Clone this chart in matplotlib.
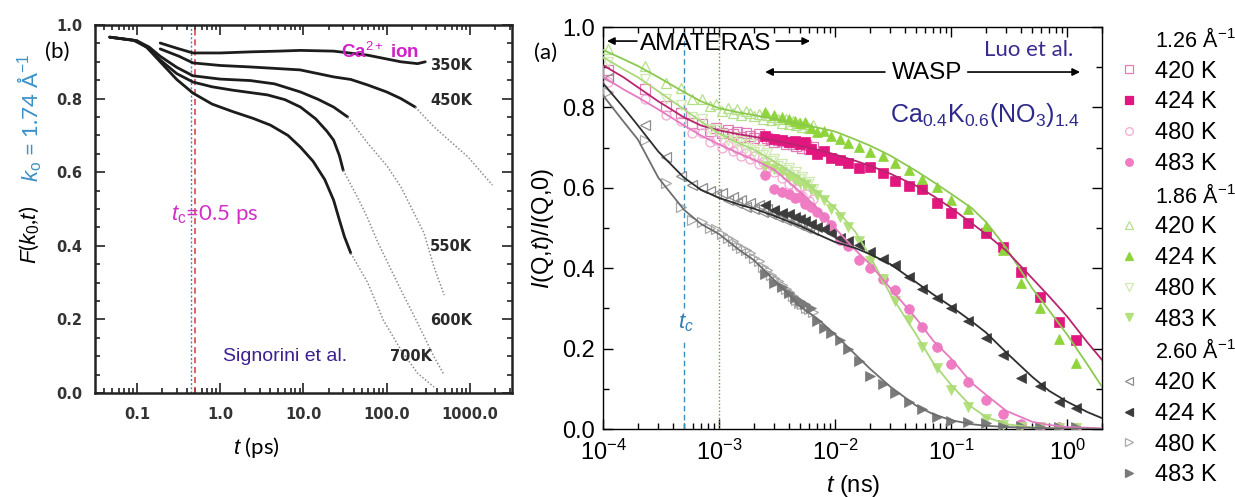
import matplotlib
matplotlib.use('Agg')
import matplotlib.pyplot as plt
from matplotlib.lines import Line2D
from matplotlib.ticker import LogLocator, MultipleLocator, NullFormatter

plt.rcParams['font.family'] = ['Liberation Sans', 'DejaVu Sans']
plt.rcParams['mathtext.fontset'] = 'custom'
plt.rcParams['mathtext.rm'] = 'Liberation Sans'
plt.rcParams['mathtext.it'] = 'Liberation Sans:italic'
plt.rcParams['mathtext.bf'] = 'Liberation Sans:bold'

# ---------------- panel (b): Signorini et al., F(k0,t) ----------------
# solid (thick) part of each curve
t_350 = [0.19, 0.3, 0.47, 1.0, 2.3, 5.0, 9.2, 23, 59, 148, 235, 290]
f_350 = [0.951, 0.937, 0.924, 0.924, 0.927, 0.929, 0.931, 0.929, 0.918, 0.900, 0.895, 0.900]
t_450 = [0.19, 0.32, 0.47, 1.0, 2.3, 9.1, 23, 37, 59, 100, 148, 220]
f_450 = [0.935, 0.915, 0.897, 0.890, 0.886, 0.878, 0.859, 0.852, 0.837, 0.818, 0.800, 0.777]
t_550 = [0.047, 0.1, 0.14, 0.19, 0.3, 0.47, 1.0, 2.3, 4.5, 9.2, 15, 23, 34]
f_550 = [0.967, 0.957, 0.940, 0.915, 0.885, 0.862, 0.853, 0.849, 0.840, 0.818, 0.798, 0.777, 0.750]
t_600 = [0.047, 0.1, 0.14, 0.19, 0.3, 0.47, 0.8, 1.4, 3.7, 6.0, 9.2, 14, 19, 23, 27, 30]
f_600 = [0.967, 0.957, 0.935, 0.905, 0.868, 0.845, 0.832, 0.823, 0.810, 0.797, 0.777, 0.745, 0.712, 0.687, 0.645, 0.605]
t_700 = [0.047, 0.09, 0.13, 0.19, 0.3, 0.47, 0.8, 1.4, 2.5, 4.0, 6.5, 9.2, 13, 18, 23, 27, 31, 37]
f_700 = [0.967, 0.959, 0.940, 0.900, 0.852, 0.815, 0.785, 0.765, 0.746, 0.728, 0.700, 0.668, 0.630, 0.580, 0.524, 0.470, 0.425, 0.380]
# dotted tails
t_450d = [220, 370, 950, 1860]
f_450d = [0.777, 0.723, 0.641, 0.565]
t_550d = [34, 59, 100, 148, 280, 370, 490]
f_550d = [0.750, 0.679, 0.618, 0.560, 0.435, 0.342, 0.266]
t_600d = [30, 45, 59, 78, 110, 148, 235, 370, 490]
f_600d = [0.605, 0.530, 0.475, 0.410, 0.340, 0.280, 0.190, 0.098, 0.049]
t_700d = [37, 59, 91, 148, 234, 370]
f_700d = [0.380, 0.300, 0.198, 0.117, 0.054, 0.016]

temp_labels_b = ['350K', '450K', '550K', '600K', '700K']

# ---------------- panel (a): Luo et al., I(Q,t)/I(Q,0) ----------------
# AMATERAS times (ns), open symbols (420 K and 480 K)
t_ama = [1.1e-4, 2.3e-4, 3.5e-4, 4.7e-4, 5.9e-4, 7.1e-4, 8.3e-4, 9.5e-4,
         1.07e-3, 1.19e-3, 1.31e-3, 1.43e-3, 1.55e-3, 1.7e-3, 1.85e-3, 2.0e-3,
         2.2e-3, 2.4e-3, 2.6e-3, 2.8e-3, 3.0e-3, 3.25e-3, 3.5e-3, 3.75e-3,
         4.0e-3, 4.3e-3, 4.6e-3, 4.9e-3, 5.2e-3, 5.6e-3, 6.0e-3, 6.5e-3]
# WASP times (ns), filled symbols (424 K and 483 K)
t_wasp = [2.5e-3, 3.0e-3, 3.5e-3, 4.0e-3, 4.5e-3, 5.0e-3, 5.5e-3, 6.2e-3,
          7.0e-3, 8.0e-3, 9.2e-3, 1.1e-2, 1.3e-2, 1.6e-2, 2.0e-2, 2.6e-2,
          3.3e-2, 4.3e-2, 5.6e-2, 7.5e-2, 0.1, 0.14, 0.2, 0.28, 0.4, 0.58, 0.85, 1.2]

q126_420 = [0.893, 0.845, 0.804, 0.787, 0.761, 0.758, 0.742, 0.750, 0.737, 0.745, 0.733, 0.740,
            0.726, 0.736, 0.730, 0.724, 0.733, 0.718, 0.725, 0.722, 0.713, 0.720, 0.716, 0.708,
            0.715, 0.710, 0.703, 0.712, 0.700, 0.707, 0.697, 0.702]
q126_480 = [0.862, 0.822, 0.780, 0.767, 0.736, 0.737, 0.714, 0.718, 0.700, 0.706, 0.692, 0.697,
            0.680, 0.687, 0.672, 0.678, 0.659, 0.665, 0.649, 0.657, 0.640, 0.646, 0.624, 0.632,
            0.610, 0.618, 0.596, 0.603, 0.580, 0.584, 0.566, 0.572]
q186_420 = [0.946, 0.902, 0.861, 0.849, 0.822, 0.820, 0.803, 0.809, 0.792, 0.799, 0.787, 0.795,
            0.781, 0.790, 0.786, 0.778, 0.784, 0.772, 0.780, 0.768, 0.775, 0.771, 0.762, 0.770,
            0.758, 0.766, 0.757, 0.762, 0.752, 0.759, 0.749, 0.755]
q186_480 = [0.912, 0.870, 0.822, 0.806, 0.776, 0.770, 0.746, 0.744, 0.735, 0.720, 0.727, 0.712,
            0.716, 0.700, 0.708, 0.690, 0.694, 0.681, 0.686, 0.666, 0.672, 0.655, 0.660, 0.644,
            0.650, 0.633, 0.640, 0.621, 0.628, 0.610, 0.615, 0.596]
q260_420 = [0.872, 0.756, 0.676, 0.630, 0.607, 0.600, 0.592, 0.584, 0.588, 0.570, 0.577, 0.562,
            0.569, 0.553, 0.561, 0.547, 0.556, 0.540, 0.548, 0.534, 0.541, 0.527, 0.535, 0.520,
            0.527, 0.514, 0.521, 0.507, 0.513, 0.500, 0.506, 0.495]
q260_480 = [0.838, 0.718, 0.612, 0.553, 0.521, 0.515, 0.500, 0.497, 0.484, 0.475, 0.467, 0.458,
            0.450, 0.446, 0.438, 0.426, 0.418, 0.404, 0.395, 0.384, 0.376, 0.368, 0.358, 0.349,
            0.340, 0.331, 0.322, 0.314, 0.310, 0.302, 0.298, 0.290]

q126_424 = [0.728, 0.722, 0.719, 0.713, 0.716, 0.708, 0.713, 0.697, 0.684, 0.692, 0.675, 0.668,
            0.662, 0.650, 0.652, 0.637, 0.618, 0.604, 0.596, 0.562, 0.538, 0.512, 0.488, 0.452,
            0.390, 0.328, 0.266, 0.221]
q126_483 = [0.632, 0.598, 0.590, 0.584, 0.575, 0.577, 0.560, 0.553, 0.540, 0.527, 0.508, 0.470,
            0.455, 0.420, 0.400, 0.372, 0.345, 0.298, 0.254, 0.205, 0.162, 0.118, 0.072, 0.038,
            0.012, 0.006, 0.004, 0.003]
q186_424 = [0.788, 0.781, 0.776, 0.770, 0.766, 0.760, 0.763, 0.748, 0.738, 0.741, 0.728, 0.721,
            0.712, 0.702, 0.690, 0.680, 0.662, 0.645, 0.622, 0.603, 0.570, 0.548, 0.505, 0.445,
            0.362, 0.302, 0.225, 0.164]
q186_483 = [0.655, 0.648, 0.640, 0.628, 0.620, 0.612, 0.606, 0.597, 0.582, 0.570, 0.548, 0.528,
            0.502, 0.468, 0.418, 0.372, 0.318, 0.271, 0.205, 0.152, 0.098, 0.055, 0.024, 0.010,
            0.006, 0.004, 0.003, 0.002]
q260_424 = [0.556, 0.545, 0.538, 0.534, 0.528, 0.522, 0.518, 0.510, 0.503, 0.497, 0.488, 0.476,
            0.468, 0.457, 0.440, 0.424, 0.408, 0.378, 0.348, 0.327, 0.302, 0.268, 0.226, 0.184,
            0.128, 0.108, 0.067, 0.052]
q260_483 = [0.385, 0.364, 0.352, 0.338, 0.327, 0.318, 0.310, 0.300, 0.268, 0.252, 0.240, 0.221,
            0.198, 0.170, 0.132, 0.112, 0.090, 0.067, 0.050, 0.030, 0.020, 0.017, 0.014, 0.010,
            0.007, 0.005, 0.004, 0.005]

# fitted curves
t_fit = [1e-4, 1.5e-4, 2e-4, 3e-4, 5e-4, 7e-4, 1e-3, 1.5e-3, 2e-3, 3e-3, 5e-3, 7e-3, 1e-2,
         1.5e-2, 2e-2, 3e-2, 5e-2, 7e-2, 0.1, 0.15, 0.2, 0.3, 0.5, 0.7, 1.0, 1.5, 2.0]
fit_126_424 = [0.905, 0.875, 0.850, 0.815, 0.775, 0.755, 0.743, 0.733, 0.727, 0.718, 0.705, 0.695,
               0.683, 0.667, 0.655, 0.635, 0.605, 0.580, 0.550, 0.512, 0.485, 0.443, 0.375, 0.330,
               0.280, 0.215, 0.172]
fit_126_483 = [0.876, 0.845, 0.825, 0.795, 0.755, 0.730, 0.708, 0.685, 0.670, 0.645, 0.590, 0.550,
               0.500, 0.445, 0.410, 0.350, 0.275, 0.220, 0.175, 0.115, 0.085, 0.045, 0.018, 0.010,
               0.005, 0.003, 0.002]
fit_186_424 = [0.943, 0.920, 0.903, 0.875, 0.838, 0.815, 0.798, 0.787, 0.781, 0.771, 0.758, 0.750,
               0.740, 0.720, 0.705, 0.680, 0.642, 0.615, 0.585, 0.550, 0.515, 0.450, 0.350, 0.295,
               0.235, 0.160, 0.105]
fit_186_483 = [0.925, 0.895, 0.875, 0.840, 0.795, 0.765, 0.735, 0.710, 0.695, 0.665, 0.625, 0.590,
               0.550, 0.490, 0.430, 0.335, 0.235, 0.165, 0.110, 0.055, 0.030, 0.012, 0.004, 0.002,
               0.001, 0.000, 0.000]
fit_260_424 = [0.860, 0.800, 0.755, 0.690, 0.625, 0.595, 0.575, 0.558, 0.548, 0.530, 0.505, 0.485,
               0.465, 0.450, 0.435, 0.410, 0.365, 0.335, 0.305, 0.268, 0.240, 0.190, 0.130, 0.095,
               0.068, 0.042, 0.027]
fit_260_483 = [0.830, 0.765, 0.720, 0.625, 0.545, 0.510, 0.485, 0.445, 0.420, 0.370, 0.305, 0.275,
               0.235, 0.185, 0.150, 0.105, 0.058, 0.037, 0.022, 0.012, 0.008, 0.005, 0.003, 0.002,
               0.001, 0.001, 0.000]

q_headers = ['1.26 Å$^{-1}$', '1.86 Å$^{-1}$', '2.60 Å$^{-1}$']
temps_a = ['420 K', '424 K', '480 K', '483 K']

# ---------------- figure ----------------
W, H = 1235, 497
fig = plt.figure(figsize=(W / 100, H / 100), dpi=100)

# ---- panel (b)
axb = fig.add_axes([95 / W, 1 - 393 / H, 417 / W, 368 / H])
for t, f in [(t_350, f_350), (t_450, f_450), (t_550, f_550), (t_600, f_600), (t_700, f_700)]:
    axb.plot(t, f, color='#1c1c1c', lw=2.0, solid_capstyle='round', solid_joinstyle='round', zorder=3)
for t, f in [(t_450d, f_450d), (t_550d, f_550d), (t_600d, f_600d), (t_700d, f_700d)]:
    axb.plot(t, f, color='#8c8c8c', lw=1.1, ls=(0, (1, 1.3)), zorder=3)
axb.axvline(0.45, color='#5a7fb0', lw=1.0, ls=(0, (1.5, 1.5)), zorder=2)
axb.axvline(0.5, color='#d23a3a', lw=1.1, ls=(0, (4, 2.5)), zorder=2)

axb.set_xscale('log')
axb.set_xlim(0.0313, 3195)
axb.set_ylim(0, 1.0)
axb.set_xticks([0.1, 1, 10, 100, 1000])
axb.set_xticklabels(['0.1', '1.0', '10.0', '100.0', '1000.0'])
axb.xaxis.set_minor_locator(LogLocator(base=10, subs=range(2, 10), numticks=20))
axb.xaxis.set_minor_formatter(NullFormatter())
axb.set_yticks([0, 0.2, 0.4, 0.6, 0.8, 1.0])
axb.set_yticklabels(['0.0', '0.2', '0.4', '0.6', '0.8', '1.0'])
axb.yaxis.set_minor_locator(MultipleLocator(0.05))
axb.tick_params(which='both', direction='in', top=True, right=True, width=1.2, color='#222222')
axb.tick_params(which='major', length=7)
axb.tick_params(which='minor', length=3.5)
axb.tick_params(axis='x', pad=10)
axb.tick_params(axis='y', pad=9)
for lab in axb.get_xticklabels() + axb.get_yticklabels():
    lab.set_family('DejaVu Sans')
    lab.set_weight('bold')
    lab.set_size(10.5)
    lab.set_color('#333333')
for s in axb.spines.values():
    s.set_linewidth(1.8)
    s.set_color('#222222')

tb = axb.transAxes
axb.text(0.388, -0.149, '$t$ (ps)', transform=tb, ha='center', va='center', fontsize=16, family='Lato')
axb.text(-0.091, 0.927, '(b)', transform=tb, ha='center', va='center', fontsize=16, family='Lato')
axb.text(-0.156, 0.747, '$k_\\mathrm{o}$ = 1.74 Å$^{-1}$', transform=tb, rotation=90,
         ha='center', va='center', fontsize=16, color='#3c90c8', family='Lato')
axb.text(-0.156, 0.429, '$F$($k_0$,$t$)', transform=tb, rotation=90,
         ha='center', va='center', fontsize=16, family='Lato')
axb.text(0.683, 0.927, 'Ca$^{2+}$ ion', transform=tb, ha='center', va='center',
         fontsize=13.5, weight='bold', color='#d021c6')
axb.text(0.288, 0.484, '$t_\\mathrm{c}$=0.5 ps', transform=tb, ha='center', va='center',
         fontsize=16, color='#d030c8', family='Lato')
axb.text(0.456, 0.098, 'Signorini et al.', transform=tb, ha='center', va='center',
         fontsize=14, color='#3d1f8f')
lab_pos_b = [(0.854, 0.891), (0.854, 0.796), (0.854, 0.397), (0.854, 0.198), (0.758, 0.098)]
for lab, (x, y) in zip(temp_labels_b, lab_pos_b):
    axb.text(x, y, lab, transform=tb, ha='center', va='center', fontsize=10.5,
             weight='bold', family='DejaVu Sans', color='#2a2a2a')

# ---- panel (a)
axa = fig.add_axes([603 / W, 1 - 429 / H, 499 / W, 402 / H])

styles = {
    'q126_420': dict(marker='s', color='#e27bb5', filled=False),
    'q126_424': dict(marker='s', color='#e2167f', filled=True),
    'q126_480': dict(marker='o', color='#f3a9d3', filled=False),
    'q126_483': dict(marker='o', color='#f07cc4', filled=True),
    'q186_420': dict(marker='^', color='#b5e08a', filled=False),
    'q186_424': dict(marker='^', color='#8fd43a', filled=True),
    'q186_480': dict(marker='v', color='#cfe9b0', filled=False),
    'q186_483': dict(marker='v', color='#b3e27a', filled=True),
    'q260_420': dict(marker='<', color='#8c8c8c', filled=False),
    'q260_424': dict(marker='<', color='#3c3c3c', filled=True),
    'q260_480': dict(marker='>', color='#a8a8a8', filled=False),
    'q260_483': dict(marker='>', color='#7a7a7a', filled=True),
}

open_series = [('q126_420', q126_420), ('q126_480', q126_480), ('q186_420', q186_420),
               ('q186_480', q186_480), ('q260_420', q260_420), ('q260_480', q260_480)]
filled_series = [('q126_424', q126_424), ('q126_483', q126_483), ('q186_424', q186_424),
                 ('q186_483', q186_483), ('q260_424', q260_424), ('q260_483', q260_483)]

for key, y in open_series:
    st = styles[key]
    axa.plot(t_ama, y, ls='none', marker=st['marker'], ms=6.5, mfc='none',
             mec=st['color'], mew=0.9, zorder=3)
for key, y in filled_series:
    st = styles[key]
    axa.plot(t_wasp, y, ls='none', marker=st['marker'], ms=7, mfc=st['color'],
             mec=st['color'], mew=0.5, zorder=4)

fits = [(fit_186_424, '#8cc94f'), (fit_126_424, '#b8246e'), (fit_186_483, '#a9d97a'),
        (fit_126_483, '#e57ac0'), (fit_260_424, '#2e2e2e'), (fit_260_483, '#6e6e6e')]
for y, c in fits:
    axa.plot(t_fit, y, color=c, lw=1.3, zorder=5)

axa.plot([5e-4, 5e-4], [0, 0.22], color='#3a8fc0', lw=1.0, ls=(0, (4, 2.5)), zorder=2)
axa.plot([5e-4, 5e-4], [0.30, 1.0], color='#3a8fc0', lw=1.0, ls=(0, (4, 2.5)), zorder=2)
axa.axvline(1e-3, color='#6f9a3a', lw=1.0, ls=(0, (1, 1.5)), zorder=2)

axa.set_xscale('log')
axa.set_xlim(1e-4, 2.0)
axa.set_ylim(0, 1.0)
axa.xaxis.set_major_locator(LogLocator(base=10, numticks=10))
axa.xaxis.set_minor_locator(LogLocator(base=10, subs=range(2, 10), numticks=20))
axa.xaxis.set_minor_formatter(NullFormatter())
axa.set_yticks([0, 0.2, 0.4, 0.6, 0.8, 1.0])
axa.set_yticklabels(['0.0', '0.2', '0.4', '0.6', '0.8', '1.0'])
axa.yaxis.set_minor_locator(MultipleLocator(0.1))
axa.tick_params(which='both', direction='in', top=True, right=True, width=1.0, labelsize=17)
axa.tick_params(which='major', length=7)
axa.tick_params(which='minor', length=4.5)
axa.tick_params(axis='x', pad=7.5)
axa.tick_params(axis='y', pad=6)
for s in axa.spines.values():
    s.set_linewidth(1.0)

ta = axa.transAxes
axa.text(-0.120, 0.498, '$I$(Q,$t$)/$I$(Q,0)', transform=ta, rotation=90,
         ha='center', va='center', fontsize=17)
axa.text(0.501, -0.142, '$t$ (ns)', transform=ta, ha='center', va='center', fontsize=17)
axa.text(-0.116, 0.935, '(a)', transform=ta, ha='center', va='center', fontsize=16, family='Lato')
axa.text(0.206, 0.958, 'AMATERAS', transform=ta, ha='center', va='center', fontsize=17.5, zorder=6)
axa.text(0.649, 0.886, 'WASP', transform=ta, ha='center', va='center', fontsize=17.5, zorder=6)
arrow_kw = dict(arrowstyle='-|>', color='black', lw=1.2, mutation_scale=11,
                shrinkA=0, shrinkB=0)
axa.annotate('', xy=(0.008, 0.965), xytext=(0.068, 0.965), xycoords=ta, textcoords=ta, arrowprops=arrow_kw)
axa.annotate('', xy=(0.415, 0.965), xytext=(0.347, 0.965), xycoords=ta, textcoords=ta, arrowprops=arrow_kw)
axa.annotate('', xy=(0.325, 0.888), xytext=(0.565, 0.888), xycoords=ta, textcoords=ta, arrowprops=arrow_kw)
axa.annotate('', xy=(0.956, 0.888), xytext=(0.731, 0.888), xycoords=ta, textcoords=ta, arrowprops=arrow_kw)
axa.text(0.852, 0.943, 'Luo et al.', transform=ta, ha='center', va='center', fontsize=16,
         color='#3a2a8f', family='Lato')
axa.text(0.766, 0.781, 'Ca$_{0.4}$K$_{0.6}$(NO$_3$)$_{1.4}$', transform=ta, ha='center',
         va='center', fontsize=18, color='#2e2a8c')
axa.text(0.166, 0.264, '$t_c$', transform=ta, ha='center', va='center', fontsize=16, color='#2f7fb5')

# ---- legend
handles, labels = [], []
groups = [['q126_420', 'q126_424', 'q126_480', 'q126_483'],
          ['q186_420', 'q186_424', 'q186_480', 'q186_483'],
          ['q260_420', 'q260_424', 'q260_480', 'q260_483']]
for head, keys in zip(q_headers, groups):
    handles.append(Line2D([], [], ls='none'))
    labels.append(head)
    for key, tl in zip(keys, temps_a):
        st = styles[key]
        handles.append(Line2D([], [], ls='none', marker=st['marker'], ms=5.5,
                              mfc=st['color'] if st['filled'] else 'none',
                              mec=st['color'], mew=0.9))
        labels.append(tl)
leg = fig.legend(handles, labels, loc='upper left', bbox_to_anchor=(1117 / W, 1 - 28 / H),
                 frameon=False, fontsize=17, handlelength=1.0, handletextpad=0.62,
                 labelspacing=0.37, borderpad=0, borderaxespad=0)
for txt, lab in zip(leg.get_texts(), labels):
    if lab in q_headers:
        txt.set_fontsize(15.5)

fig.savefig('out.png', dpi=100)
